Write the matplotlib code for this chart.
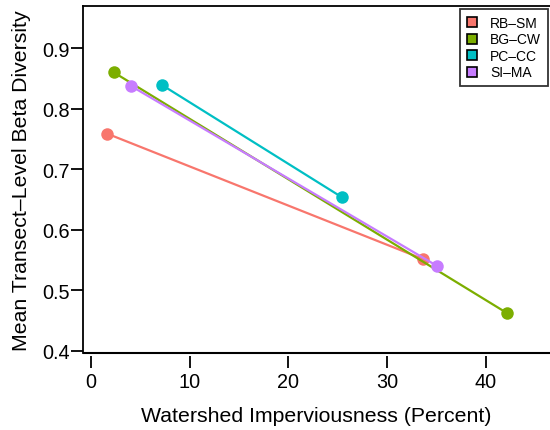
import matplotlib
matplotlib.use("Agg")
import matplotlib.pyplot as plt
from matplotlib.lines import Line2D

plt.rcParams['font.family'] = ['Liberation Sans', 'DejaVu Sans']

sites = ["RB–SM", "BG–CW", "PC–CC", "SI–MA"]
colors = ["#F8766D", "#7CAE00", "#00BFC4", "#C77CFF"]
imperv = [[1.6, 33.6], [2.3, 42.1], [7.2, 25.4], [4.1, 35.1]]
beta = [[0.759, 0.552], [0.860, 0.463], [0.839, 0.654], [0.837, 0.540]]

xticks = [0, 10, 20, 30, 40]
yticks = [0.4, 0.5, 0.6, 0.7, 0.8, 0.9]

fig = plt.figure(figsize=(5.5, 4.31), dpi=100)
ax = fig.add_axes([0.1504, 0.1787, 0.8496, 0.8043])

for xs, ys, c in zip(imperv, beta, colors):
    ax.plot(xs, ys, color=c, lw=1.6, marker='o', markersize=9,
            markeredgewidth=0, solid_capstyle='butt')

ax.set_xlim(-0.84, 46.5)
ax.set_ylim(0.3967, 0.969)
ax.set_xticks(xticks)
ax.set_xticklabels([str(t) for t in xticks])
ax.set_yticks(yticks)
ax.set_yticklabels([f"{t:.1f}" for t in yticks])

for s in ['left', 'top']:
    ax.spines[s].set_linewidth(1.3)
ax.spines['right'].set_visible(False)
# x ticks sit slightly below the axis line
ax.spines['bottom'].set_position(('outward', 2))
ax.spines['bottom'].set_visible(False)
ax.plot([0, 1], [0, 0], transform=ax.transAxes, color='black', lw=1.5,
        clip_on=False, solid_capstyle='butt')

ax.tick_params(axis='both', labelsize=14.3, width=1.3, length=8.5, color='black')
ax.tick_params(axis='x', pad=3)
ax.tick_params(axis='y', pad=1)

ax.set_xlabel("Watershed Imperviousness (Percent)", fontsize=15.3)
ax.set_ylabel("Mean Transect–Level Beta Diversity", fontsize=15.3)
ax.xaxis.set_label_coords(0.5, 1 - (417 - 7.3) / (354 - 7.3), transform=ax.transAxes)
ax.xaxis.label.set_va('center')
ax.yaxis.set_label_coords((21 - 82.7) / (550 - 82.7), 0.5, transform=ax.transAxes)
ax.yaxis.label.set_va('center')

handles = [Line2D([], [], marker='s', linestyle='none', markersize=7,
                  markerfacecolor=c, markeredgecolor='black', markeredgewidth=1.2)
           for c in colors]
leg = fig.legend(handles, sites, loc='upper right',
                 bbox_to_anchor=(548 / 550, 1 - 10 / 431),
                 bbox_transform=fig.transFigure, fontsize=10, frameon=True,
                 fancybox=False, borderaxespad=0, handlelength=0.8,
                 handletextpad=0.9, labelspacing=0.18, borderpad=0.5)
leg.get_frame().set_edgecolor('black')
leg.get_frame().set_linewidth(1.3)

fig.savefig("out.png", dpi=100)
